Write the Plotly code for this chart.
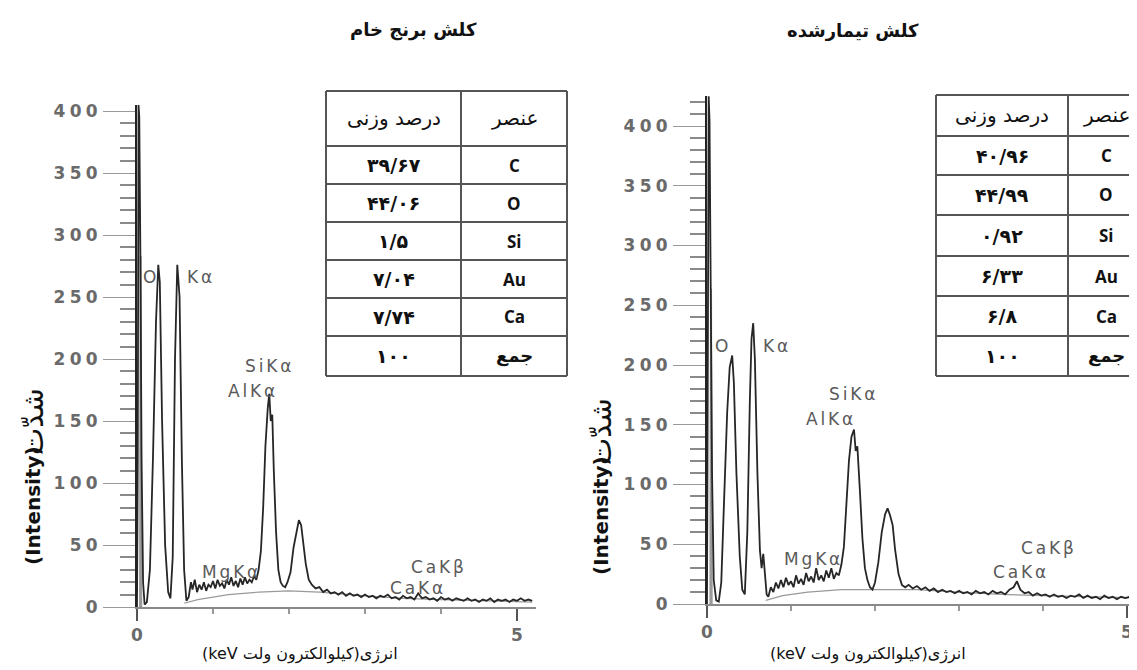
import plotly.graph_objects as go

# ---------------- data ----------------
left_title = "کلش برنج خام"
right_title = "کلش تیمارشده"
x_title = "انرژی(کیلوالکترون ولت keV)"
y_title_fa = "شدّت"
y_title_en = "(Intensity)"

left_kev = [0.00, 0.01, 0.02, 0.03, 0.045, 0.06, 0.08, 0.10, 0.13, 0.17, 0.21, 0.25, 0.28, 0.30, 0.33,
            0.37, 0.41, 0.44, 0.47, 0.50, 0.53, 0.56, 0.59, 0.62, 0.65, 0.68, 0.71, 0.73, 0.76, 0.79,
            0.82, 0.85, 0.88, 0.91, 0.94, 0.97, 1.00, 1.03, 1.06, 1.09, 1.12, 1.15, 1.18, 1.21, 1.24,
            1.27, 1.30, 1.33, 1.36, 1.39, 1.42, 1.45, 1.48, 1.51, 1.54, 1.57, 1.60, 1.63, 1.66, 1.69,
            1.72, 1.74, 1.76, 1.78, 1.80, 1.83, 1.86, 1.89, 1.92, 1.95, 1.98, 2.02, 2.06, 2.10, 2.13,
            2.16, 2.19, 2.22, 2.26, 2.30, 2.35, 2.40, 2.45, 2.50, 2.55, 2.60, 2.65, 2.70, 2.75, 2.80,
            2.85, 2.90, 2.95, 3.00, 3.05, 3.10, 3.15, 3.20, 3.25, 3.30, 3.35, 3.40, 3.45, 3.50, 3.55,
            3.60, 3.65, 3.70, 3.75, 3.80, 3.85, 3.90, 3.95, 4.00, 4.05, 4.10, 4.15, 4.20, 4.25, 4.30,
            4.35, 4.40, 4.45, 4.50, 4.55, 4.60, 4.65, 4.70, 4.75, 4.80, 4.85, 4.90, 4.95, 5.00, 5.05,
            5.10, 5.15, 5.20]
left_counts = [0, 120, 405, 395, 280, 120, 20, 2, 4, 30, 120, 230, 276, 262, 150,
               50, 12, 7, 40, 200, 276, 250, 120, 30, 5, 8, 20, 14, 22, 12,
               18, 14, 20, 13, 18, 16, 21, 15, 22, 17, 19, 15, 22, 18, 24,
               17, 21, 16, 23, 18, 24, 19, 22, 20, 25, 22, 30, 45, 80, 130,
               160, 172, 150, 155, 110, 60, 30, 20, 17, 16, 20, 28, 48, 62, 70,
               66, 52, 35, 22, 18, 15, 16, 12, 14, 11, 12, 10, 12, 9, 11,
               9, 10, 8, 10, 8, 9, 7, 9, 8, 10, 7, 8, 6, 9, 7,
               8, 6, 11, 7, 8, 6, 7, 5, 8, 6, 7, 5, 7, 6, 5,
               7, 5, 6, 4, 6, 5, 7, 4, 6, 5, 6, 4, 6, 5, 7,
               5, 6, 5]
left_ghost_kev = [0.040, 0.048, 0.056]
left_ghost_counts = [0, 283, 0]
left_bg_kev = [0.62, 0.80, 1.20, 1.60, 2.00, 2.40, 3.00, 3.50, 4.00, 4.50, 5.20]
left_bg_counts = [3, 6, 10, 12, 13, 12, 9, 7, 6, 5, 4]

right_kev = [0.00, 0.01, 0.02, 0.03, 0.045, 0.06, 0.08, 0.11, 0.14, 0.17, 0.20, 0.24, 0.27, 0.30, 0.32,
             0.35, 0.39, 0.42, 0.45, 0.48, 0.51, 0.53, 0.55, 0.57, 0.60, 0.63, 0.65, 0.67, 0.69, 0.71,
             0.73, 0.76, 0.79, 0.82, 0.85, 0.88, 0.91, 0.94, 0.97, 1.00, 1.03, 1.06, 1.09, 1.12, 1.15,
             1.18, 1.21, 1.24, 1.27, 1.30, 1.33, 1.36, 1.39, 1.42, 1.45, 1.48, 1.51, 1.54, 1.57, 1.60,
             1.63, 1.66, 1.69, 1.72, 1.75, 1.77, 1.79, 1.82, 1.85, 1.88, 1.91, 1.94, 1.97, 2.00, 2.04,
             2.08, 2.12, 2.15, 2.18, 2.21, 2.24, 2.28, 2.32, 2.36, 2.40, 2.45, 2.50, 2.55, 2.60, 2.65,
             2.70, 2.75, 2.80, 2.85, 2.90, 2.95, 3.00, 3.05, 3.10, 3.15, 3.20, 3.25, 3.30, 3.35, 3.40,
             3.45, 3.50, 3.55, 3.60, 3.65, 3.69, 3.73, 3.78, 3.83, 3.88, 3.93, 3.98, 4.03, 4.08, 4.13,
             4.18, 4.23, 4.28, 4.33, 4.38, 4.43, 4.48, 4.53, 4.58, 4.63, 4.68, 4.73, 4.78, 4.83, 4.88,
             4.93, 4.98, 5.03, 5.08, 5.13, 5.18, 5.20]
right_counts = [0, 160, 425, 405, 262, 110, 20, 3, 2, 18, 80, 160, 198, 208, 185,
                110, 40, 12, 8, 60, 170, 222, 235, 205, 110, 45, 30, 42, 25, 8,
                6, 14, 10, 18, 13, 20, 14, 22, 16, 19, 14, 24, 17, 21, 16,
                26, 19, 23, 18, 30, 20, 24, 19, 28, 22, 30, 21, 26, 24, 33,
                48, 85, 120, 140, 146, 128, 132, 95, 55, 30, 20, 14, 12, 18, 35,
                60, 75, 80, 74, 66, 45, 25, 16, 14, 16, 13, 15, 12, 14, 11,
                13, 10, 12, 10, 11, 9, 11, 9, 10, 8, 11, 9, 10, 8, 11,
                9, 10, 8, 12, 14, 19, 12, 9, 10, 7, 9, 7, 8, 6, 8,
                6, 7, 5, 7, 6, 8, 5, 7, 5, 6, 4, 7, 5, 6, 4,
                6, 5, 6, 4, 6, 5, 5]
right_ghost_kev = [0.040, 0.048, 0.056]
right_ghost_counts = [0, 264, 0]
right_bg_kev = [0.70, 0.90, 1.20, 1.60, 2.00, 2.50, 3.00, 3.50, 4.00, 4.50, 5.20]
right_bg_counts = [3, 7, 10, 12, 12, 12, 10, 8, 7, 6, 5]

y_ticks = [0, 50, 100, 150, 200, 250, 300, 350, 400]
x_ticks = [0, 5]

table_header = ["درصد وزنی", "عنصر"]
elements = ["C", "O", "Si", "Au", "Ca", "جمع"]
left_wt = ["۳۹/۶۷", "۴۴/۰۶", "۱/۵", "۷/۰۴", "۷/۷۴", "۱۰۰"]
right_wt = ["۴۰/۹۶", "۴۴/۹۹", "۰/۹۲", "۶/۳۳", "۶/۸", "۱۰۰"]

# peak labels: (text, keV, counts)
left_labels = [("O", 0.16, 266), ("Kα", 0.82, 266), ("SiKα", 1.72, 194), ("AlKα", 1.50, 174),
               ("MgKα", 1.22, 28), ("CaKβ", 3.95, 32), ("CaKα", 3.68, 15)]
right_labels = [("O", 0.17, 216), ("Kα", 0.82, 216), ("SiKα", 1.73, 176), ("AlKα", 1.46, 155),
                ("MgKα", 1.25, 38), ("CaKβ", 4.05, 47), ("CaKα", 3.72, 27)]

# ---------------- layout helpers ----------------
W, H = 1137, 670


def fx(p):
    return p / W


def fy(p):
    return 1 - p / H


def spaced(s, sp="\u2006"):
    return sp.join(list(s))


RLE, PDF = "\u202B", "\u202C"

fig = go.Figure()
for xs, ys, gx, gy, bx, by, ax in [
    (left_kev, left_counts, left_ghost_kev, left_ghost_counts, left_bg_kev, left_bg_counts, ""),
    (right_kev, right_counts, right_ghost_kev, right_ghost_counts, right_bg_kev, right_bg_counts, "2"),
]:
    fig.add_trace(go.Scatter(x=bx, y=by, mode="lines", line=dict(color="#9a9a9a", width=1.2),
                             xaxis="x" + ax, yaxis="y" + ax, showlegend=False, hoverinfo="skip"))
    fig.add_trace(go.Scatter(x=gx, y=gy, mode="lines", line=dict(color="#9a9a9a", width=2),
                             xaxis="x" + ax, yaxis="y" + ax, showlegend=False, hoverinfo="skip"))
    fig.add_trace(go.Scatter(x=xs, y=ys, mode="lines", line=dict(color="#262626", width=1.8),
                             xaxis="x" + ax, yaxis="y" + ax, showlegend=False))

tick_font = dict(family="DejaVu Sans", size=17, color="#6a6a6a", weight="bold")
alias_y = {str(v): spaced(str(v), "\u2005") for v in y_ticks}


def xaxis_cfg(x0px, pxper, rng, anchor):
    return dict(domain=[fx(x0px), fx(x0px + pxper * rng[1])], range=rng, anchor=anchor,
                showgrid=False, zeroline=False, showline=True, linecolor="#8a8a8a", linewidth=1.5,
                tickmode="array", tickvals=x_ticks, ticks="outside", ticklen=12, tickwidth=1.5,
                tickcolor="#555", tickfont=tick_font, automargin=False,
                minor=dict(dtick=1, tick0=0, ticks="outside", ticklen=5, tickwidth=1.5, tickcolor="#999"))


def yaxis_cfg(y0px, pxper, rng, anchor):
    return dict(domain=[fy(y0px), fy(y0px - pxper * rng[1])], range=rng, anchor=anchor,
                showgrid=False, zeroline=False, showline=True, linecolor="#222", linewidth=2,
                tickmode="linear", tick0=0, dtick=50, ticks="outside", ticklen=32, tickwidth=1,
                tickcolor="#9a9a9a", tickfont=tick_font, labelalias=alias_y, automargin=False,
                ticklabelstandoff=2,
                minor=dict(dtick=10, tick0=0, ticks="outside", ticklen=15, tickwidth=2, tickcolor="#8a8a8a"))


fig.update_layout(
    width=W, height=H, margin=dict(l=0, r=0, t=0, b=0),
    paper_bgcolor="white", plot_bgcolor="rgba(0,0,0,0)",
    xaxis=xaxis_cfg(129, 76, [0, 5.25], "y"),
    yaxis=yaxis_cfg(599, 1.24, [0, 405], "x"),
    xaxis2=xaxis_cfg(699, 84, [0, 5.2], "y2"),
    yaxis2=yaxis_cfg(596, 1.195, [0, 425], "x2"),
)

annotations = []
shapes = []


def note(text, x, y, font, xref="paper", yref="paper", angle=0):
    annotations.append(dict(text=text, x=x, y=y, xref=xref, yref=yref, showarrow=False,
                            xanchor="center", yanchor="middle", textangle=angle, font=font))


# titles
for txt, cx in [(left_title, 405), (right_title, 845)]:
    note(txt, fx(cx), fy(22), dict(family="DejaVu Sans", size=18, color="#111", weight="bold"))

# axis titles
for cx in [292, 860]:
    note(RLE + x_title + PDF, fx(cx), fy(646), dict(family="DejaVu Sans", size=16, color="#111"))
for cx, yfa, yen in [(25, 414, 498), (593, 424, 508)]:
    note(y_title_en, fx(cx), fy(yen), dict(family="DejaVu Sans", size=20, color="#111", weight="bold"),
         angle=-90)
    note(y_title_fa, fx(cx), fy(yfa), dict(family="DejaVu Sans", size=29, color="#111"), angle=-90)

# red spell-check squiggle under "keV"
for x0 in [205, 773]:
    pts = []
    for k in range(15):
        px_ = x0 + k * 2
        py_ = 664 + (1.3 if k % 2 else -1.3)
        pts.append(f"{fx(px_):.5f},{fy(py_):.5f}")
    shapes.append(dict(type="path", xref="paper", yref="paper", path="M" + " L".join(pts),
                       line=dict(color="#e03030", width=1.3)))

# peak labels
for labels, ax in [(left_labels, ""), (right_labels, "2")]:
    for txt, kx, ky in labels:
        note(spaced(txt), kx, ky, dict(family="DejaVu Sans", size=17, color="#5a5a5a"),
             xref="x" + ax, yref="y" + ax)

# tables
for cols, rows, wts in [([318, 453, 559], [83, 138, 176, 214, 252, 290, 328, 368], left_wt),
                        ([928, 1060, 1136], [87, 128, 167, 207, 248, 288, 328, 368], right_wt)]:
    for c in cols:
        shapes.append(dict(type="line", xref="paper", yref="paper", x0=fx(c), x1=fx(c),
                           y0=fy(rows[0]), y1=fy(rows[-1]), line=dict(color="#555", width=2)))
    for r in rows:
        shapes.append(dict(type="line", xref="paper", yref="paper", x0=fx(cols[0]), x1=fx(cols[-1]),
                           y0=fy(r), y1=fy(r), line=dict(color="#555", width=2)))
    c1 = (cols[0] + cols[1]) / 2
    c2 = (cols[1] + cols[2]) / 2
    hy = (rows[0] + rows[1]) / 2
    note(table_header[0], fx(c1), fy(hy), dict(family="DejaVu Sans", size=20, color="#111"))
    note(table_header[1], fx(c2), fy(hy), dict(family="DejaVu Sans", size=20, color="#111"))
    for i, (el, wt) in enumerate(zip(elements, wts)):
        ry = (rows[i + 1] + rows[i + 2]) / 2
        note(wt, fx(c1), fy(ry), dict(family="DejaVu Sans", size=19, color="#111", weight="bold"))
        fam = "DejaVu Sans" if el == "جمع" else "Open Sans"
        note(el, fx(c2), fy(ry), dict(family=fam, size=18 if el == "جمع" else 17, color="#111",
                                      weight="bold"))

fig.update_layout(annotations=annotations, shapes=shapes)
fig.write_html("out.html")
